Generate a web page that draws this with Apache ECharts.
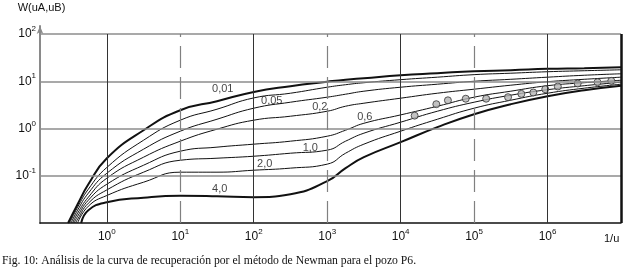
<!DOCTYPE html>
<html>
<head>
<meta charset="utf-8">
<script src="https://cdn.jsdelivr.net/npm/echarts@6/dist/echarts.min.js"></script>
<style>
  html, body { margin: 0; padding: 0; background: #fff; }
  #chart { width: 627px; height: 274px; }
</style>
</head>
<body>
<div id="chart"></div>
<script>
// x = 1/u, y = W(uA,uB) (log-log)
const curveX = [0.4, 0.56, 1, 3.16, 10, 31.6, 100, 316, 1000, 1780, 3160, 1e4, 3.16e4, 1e5, 3.16e5, 1e6, 3.16e6, 1e7];
// where each curve leaves the bottom edge (W = 0.01)
const curveStartX = [0.297, 0.311, 0.326, 0.342, 0.358, 0.376, 0.400, 0.447];

const w001 = [0.025, 0.066, 0.235, 0.92, 2.44, 3.78, 5.95, 7.86, 9.78, 10.8, 11.6, 13.4, 14.8, 16.3, 17.1, 18.3, 18.9, 19.8];
const wB = [0.0216, 0.052, 0.150, 0.565, 1.50, 2.56, 4.44, 5.58, 7.48, 8.45, 9.31, 10.8, 12.2, 13.8, 14.8, 15.9, 16.7, 17.5];
const w005 = [0.0187, 0.0428, 0.113, 0.365, 0.877, 1.57, 2.69, 3.60, 4.60, 5.32, 6.16, 7.48, 8.66, 10.0, 11.0, 12.2, 13.4, 14.4];
const w02 = [0.0161, 0.0352, 0.0888, 0.247, 0.539, 0.967, 1.50, 1.82, 2.32, 2.96, 3.43, 4.38, 5.58, 6.79, 8.25, 9.78, 11.0, 12.2];
const w06 = [0.0139, 0.0304, 0.0662, 0.167, 0.331, 0.403, 0.466, 0.539, 0.687, 0.92, 1.29, 1.94, 2.96, 4.60, 6.16, 8.05, 9.31, 10.5];
const w10 = [0.0120, 0.0262, 0.0502, 0.119, 0.213, 0.235, 0.259, 0.300, 0.348, 0.539, 0.796, 1.36, 2.32, 3.60, 5.07, 6.62, 8.05, 9.55];
const w20 = [null, 0.0227, 0.0382, 0.0730, 0.119, 0.119, 0.131, 0.145, 0.176, 0.300, 0.466, 0.877, 1.57, 2.69, 3.97, 5.58, 7.13, 8.66];
const w40 = [null, 0.0187, 0.0275, 0.0343, 0.0378, 0.0369, 0.0352, 0.0407, 0.0767, 0.145, 0.247, 0.513, 1.07, 2.01, 3.27, 4.83, 6.47, 8.05];
const curves = [w001, wB, w005, w02, w06, w10, w20, w40];
const thickCurve = [true, false, false, false, false, false, false, true];

// curve labels (text, 1/u, W at label centre)
const labelText = ["0,01", "0,05", "0,2", "0,6", "1,0", "2,0", "4,0"];
const labelX = [37.8, 176, 793, 3250, 589, 141, 34.4];
const labelW = [6.95, 3.78, 2.89, 1.73, 0.392, 0.175, 0.0519];

// pozo P6 recovery data
const obsX = [1.55e4, 3.06e4, 4.4e4, 7.7e4, 1.46e5, 2.9e5, 4.4e5, 6.4e5, 9.3e5, 1.38e6, 2.57e6, 4.79e6, 7.38e6];
const obsW = [1.87, 3.27, 3.95, 4.27, 4.27, 4.60, 5.40, 5.78, 6.79, 7.74, 8.96, 9.55, 10.2];

// axes
const xDecades = [0, 1, 2, 3, 4, 5, 6];
const yDecades = [-1, 0, 1, 2];
const solidGridX = [1, 100, 1e4, 1e6];
const dashedGridX = [10, 1000, 1e5];
const gridW = [0.1, 1, 10, 100];
const xMin = 0.123, xMax = 1e7, yMin = 0.01, yMax = 147.7;

const chart = echarts.init(document.getElementById("chart"));
const FONT = "'Liberation Sans', Arial, sans-serif";

function powLabel(allowed) {
  return function (v) {
    const l = Math.log10(v);
    const e = Math.round(l);
    if (Math.abs(l - e) > 1e-6 || allowed.indexOf(e) < 0) return "";
    return "{b|10}{s|" + e + "}";
  };
}
const rich = {
  b: { fontSize: 12, color: "#111", fontFamily: FONT },
  s: { fontSize: 8, color: "#111", fontFamily: FONT, padding: [0, 0, 10, 0] }
};

const gridLines = [];
gridW.forEach(function (w) {
  gridLines.push({ yAxis: w, lineStyle: { color: "#8c8c8c", width: 1.5, type: "solid" } });
});
solidGridX.forEach(function (x) {
  gridLines.push([
    { coord: [x, yMin], lineStyle: { color: "#333", width: 1, type: "solid" } },
    { coord: [x, 100] }
  ]);
});
dashedGridX.forEach(function (x) {
  gridLines.push([
    { coord: [x, yMin], lineStyle: { color: "#808080", width: 1.2, type: [22, 9] } },
    { coord: [x, 100] }
  ]);
});
gridLines.push([
  { coord: [xMax, yMin], lineStyle: { color: "#111", width: 2.5, type: "solid" } },
  { coord: [xMax, 100] }
]);

const series = [
  {
    type: "line",
    data: [[1, 1]],
    showSymbol: false,
    lineStyle: { opacity: 0 },
    z: 1,
    silent: true,
    markLine: { symbol: "none", silent: true, label: { show: false }, animation: false, data: gridLines }
  }
];

curves.forEach(function (w, i) {
  const data = [[curveStartX[i], yMin]];
  curveX.forEach(function (x, j) {
    if (w[j] != null) data.push([x, w[j]]);
  });
  series.push({
    type: "line",
    data: data,
    smooth: 0.5,
    showSymbol: false,
    z: 3,
    lineStyle: { color: "#111", width: thickCurve[i] ? 2 : 1 }
  });
});

series.push({
  type: "scatter",
  z: 4,
  symbolSize: 7,
  itemStyle: { color: "#b4b4b4", borderColor: "#333", borderWidth: 1 },
  data: obsX.map(function (x, i) { return [x, obsW[i]]; })
});

series.push({
  type: "scatter",
  z: 5,
  symbolSize: 0,
  label: {
    show: true,
    position: "inside",
    color: "#111",
    fontSize: 11,
    fontFamily: FONT,
    formatter: function (p) { return p.name; }
  },
  data: labelText.map(function (t, i) { return { name: t, value: [labelX[i], labelW[i]] }; })
});

chart.setOption({
  animation: false,
  backgroundColor: "#fff",
  title: {
    text: "Fig. 10: Análisis de la curva de recuperación por el método de Newman para el pozo P6.",
    left: 2,
    top: 255,
    padding: 0,
    textStyle: { fontFamily: "'Liberation Serif', 'Times New Roman', serif", fontSize: 11.7, fontWeight: "normal", color: "#111" }
  },
  grid: { left: 40, right: 6, top: 26, bottom: 51 },
  xAxis: {
    type: "log",
    min: xMin,
    max: xMax,
    name: "1/u",
    nameLocation: "end",
    nameGap: -17,
    nameTextStyle: { fontSize: 11, color: "#111", fontFamily: FONT, verticalAlign: "top", lineHeight: 32 },
    axisLine: { show: true, lineStyle: { color: "#111", width: 1.5 } },
    axisTick: { show: false },
    minorTick: { show: false },
    splitLine: { show: false },
    axisLabel: { margin: 5, formatter: powLabel(xDecades), rich: rich, showMinLabel: true, showMaxLabel: true }
  },
  yAxis: {
    type: "log",
    min: yMin,
    max: yMax,
    name: "W(uA,uB)",
    nameLocation: "end",
    nameGap: 13,
    nameTextStyle: { fontSize: 11, color: "#111", fontFamily: FONT, padding: [0, 0, 0, 3] },
    axisLine: {
      show: true,
      symbol: ["none", "arrow"],
      symbolSize: [5, 8],
      lineStyle: { color: "#8a8a8a", width: 2 }
    },
    axisTick: { show: false },
    minorTick: { show: false },
    splitLine: { show: false },
    axisLabel: { margin: 4, formatter: powLabel(yDecades), rich: rich }
  },
  series: series
});
</script>
</body>
</html>
